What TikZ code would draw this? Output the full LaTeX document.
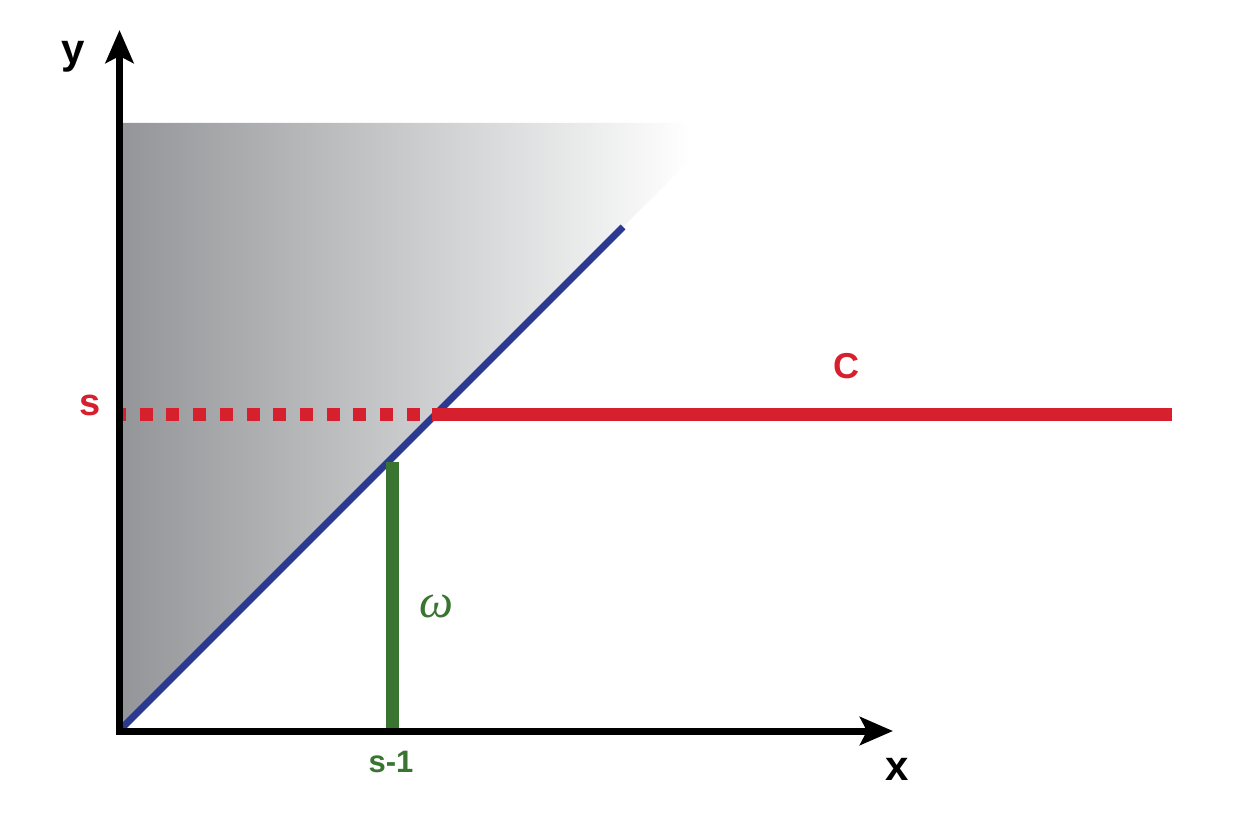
\documentclass[tikz,border=0pt]{standalone}
\usepackage{fontspec}
\setmainfont{Liberation Sans}
\newfontfamily\omfont{Liberation Serif}
\usetikzlibrary{arrows.meta}
\definecolor{cred}{HTML}{D7202E}
\definecolor{cblue}{HTML}{2B3990}
\definecolor{cgreen}{HTML}{3A7431}
\definecolor{cgray}{HTML}{939598}
\pgfdeclarehorizontalshading{grayfade}{100bp}{color(0bp)=(cgray); color(25bp)=(cgray); color(72bp)=(white); color(100bp)=(white)}
\tikzset{
  axis/.style={line width=7pt, -{Stealth[length=33pt,width=28pt,inset=7pt]}},
  lbl/.style={inner sep=0pt, anchor=base, font=\bfseries},
}
\begin{document}
\begin{tikzpicture}[x=1pt,y=-1pt]
\useasboundingbox (0,0) rectangle (1242,840);
\coordinate (O) at (120,731);
% shaded region
\shade[shading=grayfade] (120,123) -- (727,123) -- (120,731) -- cycle;
% diagonal
\coordinate (D0) at (121,729);
\coordinate (D1) at (623,227);
\draw[cblue, line width=7pt] (D0) -- (D1);
% red line
\coordinate (S0) at (122,414.5);
\coordinate (S1) at (432,414.5);
\coordinate (S2) at (1172,414.5);
\draw[cred, line width=13pt, dash pattern=on 13pt off 13.7pt, dash phase=9pt] (S0) -- (S1);
\draw[cred, line width=13pt] (S1) -- (S2);
% green line
\coordinate (G0) at (392,462);
\coordinate (G1) at (392,728);
\draw[cgreen, line width=13pt] (G0) -- (G1);
% axes
\draw[axis] (119.5,734.5) -- (119.5,30);
\draw[axis] (116,731) -- (893,731);
% labels
\node[lbl, font=\bfseries\fontsize{42}{42}\selectfont] (ly) at (73,64) {y};
\node[lbl, font=\bfseries\fontsize{42}{42}\selectfont] (lx) at (897,780) {x};
\node[lbl, text=cred, font=\bfseries\fontsize{38}{38}\selectfont] (ls) at (90,415) {s};
\node[lbl, text=cred, font=\bfseries\fontsize{36}{36}\selectfont] (lC) at (846,378) {C};
\node[lbl, text=cgreen, font=\bfseries\fontsize{31}{31}\selectfont] (lsm) at (391,772) {s-1};
\node[lbl, text=cgreen, font=\omfont\itshape\fontsize{48}{48}\selectfont] (lw) at (436,617) {ω};
\end{tikzpicture}
\end{document}
